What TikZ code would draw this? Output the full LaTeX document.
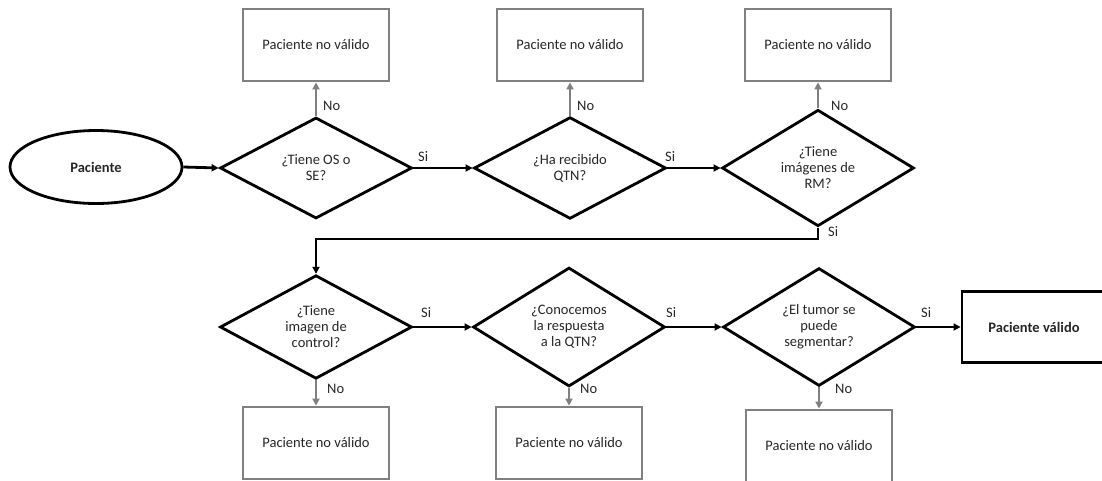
\documentclass[tikz,border=0pt]{standalone}
\usepackage{fontspec}
\setmainfont{Carlito}
\usetikzlibrary{shapes.geometric,arrows.meta}
\definecolor{rejectgray}{RGB}{128,128,128}
\begin{document}
\begin{tikzpicture}[x=1pt,y=-1pt,
  every node/.style={font=\fontsize{14.5}{16}\selectfont, text=black!85},
  decision/.style={diamond, draw=black, line width=2.8pt, minimum width=192pt,
    minimum height=101pt, inner sep=0pt, align=center},
  reject/.style={rectangle, draw=rejectgray, line width=2.8pt,
    minimum width=146pt, minimum height=72pt, inner sep=0pt},
  startnode/.style={ellipse, draw=black, line width=2.8pt, minimum width=172pt,
    minimum height=73pt, inner sep=0pt, font=\fontsize{14.5}{16}\selectfont\bfseries},
  accept/.style={rectangle, draw=black, line width=2.8pt, minimum width=144pt,
    minimum height=71pt, inner sep=0pt, font=\fontsize{14.5}{16}\selectfont\bfseries},
  yesflow/.style={draw=black, line width=2.8pt, -{Triangle[length=7pt,width=7pt]}},
  noflow/.style={draw=rejectgray, line width=2.8pt, -{Triangle[length=7pt,width=7pt]}},
  tag/.style={anchor=west, inner sep=0pt}
]
\useasboundingbox (0,0) rectangle (1102,480);

% start
\node[startnode] (start) at (96,167) {Paciente};

% first row of checks
\node[decision] (d1) at (316,168) {¿Tiene OS o\\SE?};
\node[decision] (d2) at (570,168) {¿Ha recibido\\QTN?};
\node[decision] (d3) at (818,168) {¿Tiene\\imágenes de\\RM?};

% second row of checks
\node[decision] (d4) at (316,327) {¿Tiene\\imagen de\\control?};
\node[decision] (d5) at (569,327) {¿Conocemos\\la respuesta\\a la QTN?};
\node[decision] (d6) at (819,327) {¿El tumor se\\puede\\segmentar?};

% rejection boxes
\node[reject] (r1) at (316,45) {Paciente no válido};
\node[reject] (r2) at (570,45) {Paciente no válido};
\node[reject] (r3) at (818,45) {Paciente no válido};
\node[reject] (r4) at (316,443) {Paciente no válido};
\node[reject] (r5) at (569,443) {Paciente no válido};
\node[reject] (r6) at (819,446) {Paciente no válido};

% accepted patient
\node[accept] (ok) at (1034,327) {Paciente válido};

% yes branches
\draw[yesflow] (start.east) -- (d1.west);
\draw[yesflow] (d1.east) -- (d2.west);
\draw[yesflow] (d2.east) -- (d3.west);
\coordinate (turn) at (818,239);
\draw[yesflow] (d3.south) -- (turn) -| (d4.north);
\draw[yesflow] (d4.east) -- (d5.west);
\draw[yesflow] (d5.east) -- (d6.west);
\draw[yesflow] (d6.east) -- (ok.west);

% no branches
\draw[noflow] (d1.north) -- (r1.south);
\draw[noflow] (d2.north) -- (r2.south);
\draw[noflow] (d3.north) -- (r3.south);
\draw[noflow] (d4.south) -- (r4.north);
\draw[noflow] (d5.south) -- (r5.north);
\draw[noflow] (d6.south) -- (r6.north);

% branch labels
\node[tag] (s1) at (418,157) {Si};
\node[tag] (s2) at (665,157) {Si};
\node[tag] (s3) at (828,232) {Si};
\node[tag] (s4) at (421,313) {Si};
\node[tag] (s5) at (666,313) {Si};
\node[tag] (s6) at (921,313) {Si};
\node[tag] (n1) at (323,106) {No};
\node[tag] (n2) at (577,106) {No};
\node[tag] (n3) at (831,106) {No};
\node[tag] (n4) at (327,389) {No};
\node[tag] (n5) at (580,389) {No};
\node[tag] (n6) at (835,389) {No};
\end{tikzpicture}
\end{document}
